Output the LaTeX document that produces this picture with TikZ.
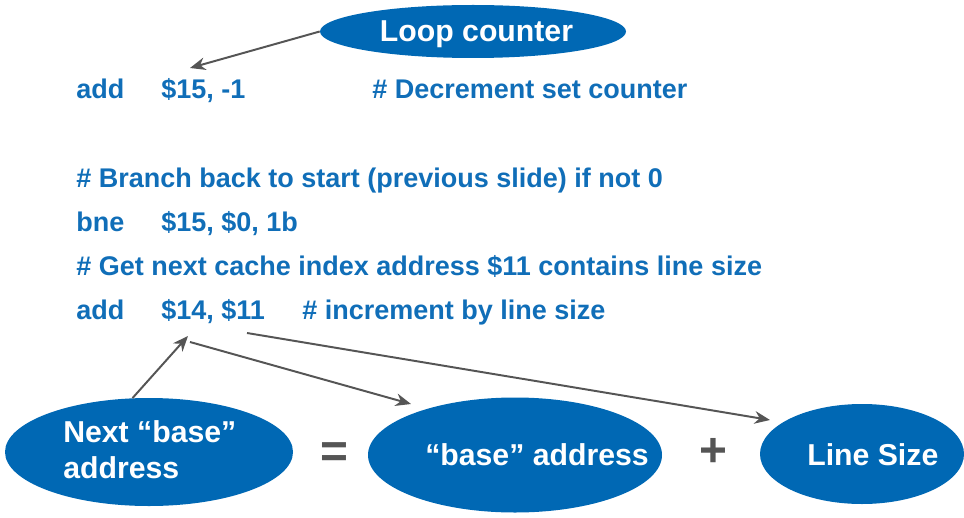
\documentclass[tikz,border=0pt]{standalone}
\usepackage{fontspec}
\setmainfont{Liberation Sans}
\usetikzlibrary{shapes.geometric,arrows.meta}
\definecolor{ellblue}{RGB}{0,104,180}
\definecolor{txtblue}{RGB}{16,110,184}
\definecolor{arrgray}{RGB}{85,85,85}
\begin{document}
\begin{tikzpicture}[x=0.025cm,y=-0.025cm,
  ell/.style={ellipse,fill=ellblue,draw=none,inner sep=0pt},
  code/.style={anchor=base west,inner sep=0pt,text=txtblue,font=\bfseries\fontsize{19.2}{22}\selectfont},
  wtxt/.style={anchor=base west,inner sep=0pt,text=white,font=\bfseries\fontsize{21.5}{24}\selectfont},
  optxt/.style={inner sep=0pt,text=arrgray,font=\bfseries\fontsize{34}{34}\selectfont},
  arr/.style={draw=arrgray,line width=1.4pt,-{Stealth[length=11pt,width=9pt]}}]
\useasboundingbox (0,0) rectangle (964,518);
\clip (0,0) rectangle (964,518);
% Loop counter
\node[ell,minimum width=306*0.025cm,minimum height=53*0.025cm] (lc) at (473,31.5) {};
\node[anchor=base,inner sep=0pt,text=white,font=\bfseries\fontsize{21.5}{24}\selectfont] (lct) at (476.5,42) {Loop counter};
% code lines
\node[code] (c1a) at (76,99) {add};
\node[code] (c1b) at (161,99) {\$15, -1};
\node[code] (c1c) at (372,99) {\# Decrement set counter};
\node[code] (c2) at (76,187) {\# Branch back to start (previous slide) if not 0};
\node[code] (c3a) at (76,231.5) {bne};
\node[code] (c3b) at (161,231.5) {\$15, \$0, 1b};
\node[code] (c4) at (76,275) {\# Get next cache index address \$11 contains line size};
\node[code] (c5a) at (76,319) {add};
\node[code] (c5b) at (161,319) {\$14, \$11};
\node[code] (c5c) at (302,319) {\# increment by line size};
% bottom ellipses
\node[ell,minimum width=288*0.025cm,minimum height=108*0.025cm] (nb) at (149,452) {};
\node[wtxt] (nbt1) at (63,442) {Next “base”};
\node[wtxt] (nbt2) at (63,478) {address};
\node[optxt] (eq) at (334,455) {=};
\node[ell,minimum width=294*0.025cm,minimum height=115*0.025cm] (ba) at (515,455) {};
\node[wtxt] (bat) at (425,465) {“base” address};
\node[optxt] (plus) at (713,452) {+};
\node[ell,minimum width=204*0.025cm,minimum height=100*0.025cm] (ls) at (862,454) {};
\node[wtxt] (lst) at (807,465) {Line Size};
% arrow ends
\coordinate (e1) at (190,68);
\coordinate (e2) at (188,336);
\coordinate (s3) at (190,342);
\coordinate (e3) at (411,404);
\coordinate (s4) at (247,333);
\coordinate (e4) at (770,420);
\draw[arr] (lc.west) -- (e1);
\draw[arr] (nb.107) -- (e2);
\draw[arr] (s3) -- (e3);
\draw[arr] (s4) -- (e4);
\end{tikzpicture}
\end{document}
